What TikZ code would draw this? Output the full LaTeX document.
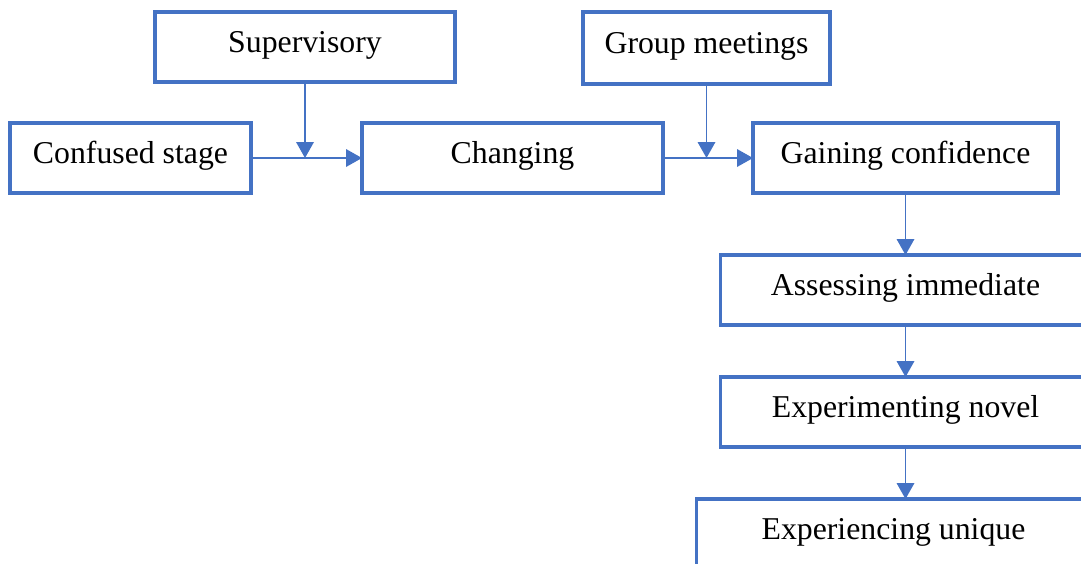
\documentclass[tikz,border=0pt]{standalone}
\usepackage{fontspec}
\setmainfont{Liberation Serif}
\usepackage{xcolor}
\usetikzlibrary{arrows.meta,positioning}

\definecolor{boxblue}{HTML}{4472C4}

\begin{document}
\begin{tikzpicture}[
    stagebox/.style={rectangle, draw=boxblue, line width=2.2pt, fill=white, minimum height=1.75cm, align=center,
        inner sep=0pt, outer sep=0pt, text height=0.5cm, text depth=0.21cm, font=\fontsize{22.6}{27}\selectfont},
    arrow/.style={-{Triangle[length=0.4cm,width=0.44cm]}, draw=boxblue, fill=boxblue, line width=1.1pt},
    node distance=1.3cm
]
\clip (0,0) rectangle (27.025,-14.075);

\node[stagebox, minimum width=6.025cm] (confused) at (3.2625,-3.95) {Confused stage};
\node[stagebox, minimum width=7.525cm, right=2.775cm of confused] (changing) {Changing};
\node[stagebox, minimum width=7.625cm, right=2.25cm of changing] (gaining) {Gaining confidence};
\node[stagebox, minimum width=7.5cm] (supervisory) at (7.625,-1.175) {Supervisory};
\node[stagebox, minimum width=6.175cm, minimum height=1.8cm] (group) at (17.6625,-1.2) {Group meetings};
\node[stagebox, minimum width=9.25cm, below=1.55cm of gaining] (assessing) {Assessing immediate};
\node[stagebox, minimum width=9.25cm, below=of assessing] (novel) {Experimenting novel};
\node[stagebox, minimum width=9.85cm, below=of novel, xshift=-0.3cm] (unique) {Experiencing unique};

\coordinate (j1) at (supervisory.south |- confused.east);
\coordinate (j2) at (group.south |- gaining.west);

\draw[arrow] (confused) -- (changing);
\draw[arrow] (supervisory) -- (j1);
\draw[arrow] (changing) -- (gaining);
\draw[arrow] (group) -- (j2);
\draw[arrow] (gaining.south) -- (gaining.south |- assessing.north);
\draw[arrow] (assessing.south -| gaining.south) -- (gaining.south |- novel.north);
\draw[arrow] (novel.south -| gaining.south) -- (gaining.south |- unique.north);
\end{tikzpicture}
\end{document}
